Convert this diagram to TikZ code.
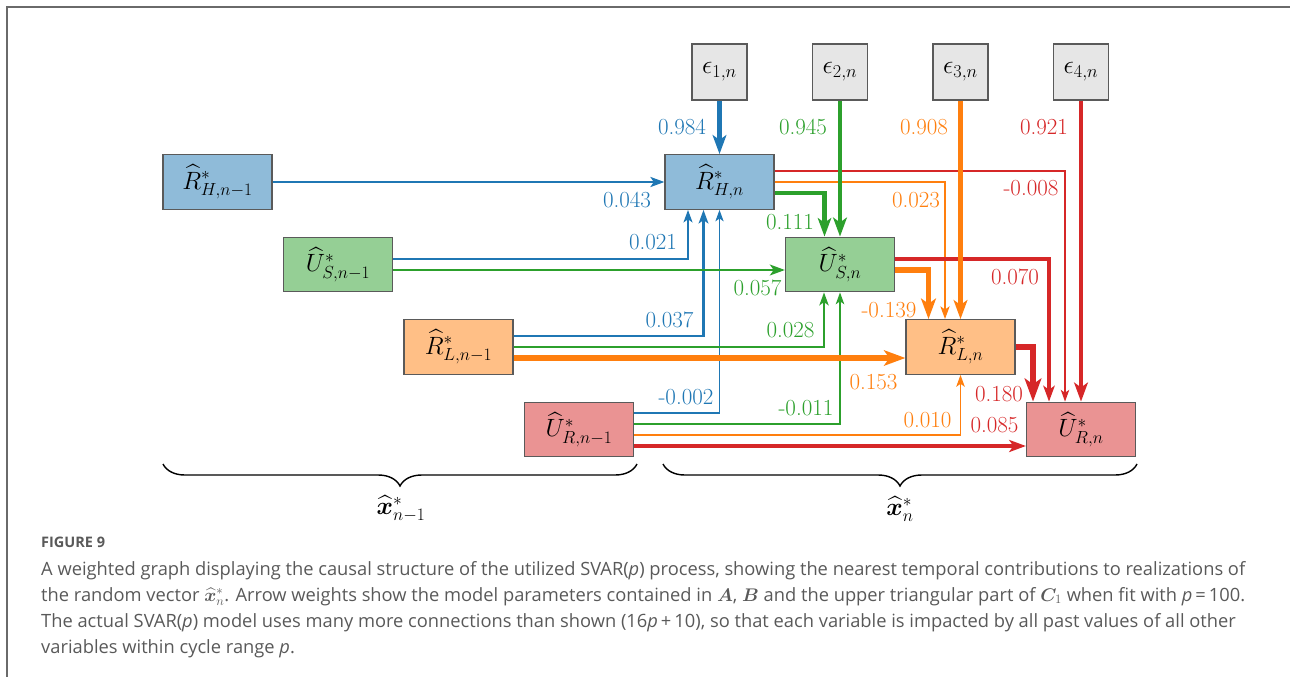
\RequirePackage{fix-cm}
\documentclass[tikz,border=0pt]{standalone}
\usepackage{amsmath}
\usepackage{bm}
\usepackage{fontspec}
\newfontfamily\capfont{Open Sans}
\usetikzlibrary{calc,arrows.meta,decorations.pathreplacing}
\definecolor{tblue}{HTML}{1F77B4}
\definecolor{tgreen}{HTML}{2CA02C}
\definecolor{torange}{HTML}{FF7F0E}
\definecolor{tred}{HTML}{D62728}
\definecolor{fblue}{HTML}{8FBBD9}
\definecolor{fgreen}{HTML}{95CF95}
\definecolor{forange}{HTML}{FFBF86}
\definecolor{fred}{HTML}{EA9393}
\definecolor{fgray}{HTML}{E6E6E6}
\definecolor{boxline}{HTML}{5A5A5A}
\definecolor{captext}{HTML}{595959}
\definecolor{framecol}{HTML}{6A6A6A}
\begin{document}
\begin{tikzpicture}[x=1pt,y=-1pt,
  box/.style={draw=boxline, line width=1.2pt, minimum width=109pt, minimum height=54.6pt,
              inner sep=0pt, font=\fontsize{25}{29}\selectfont},
  ebox/.style={box, fill=fgray, minimum width=55pt, minimum height=56pt, font=\fontsize{26}{30}\selectfont},
  wl/.style={font=\fontsize{23}{27}\selectfont, inner sep=0pt},
  arr/.style={line width=#1pt, -{Stealth[length=9pt 2.2, width'=0pt 0.72, inset'=0pt 0.25]}},
  bracelab/.style={font=\fontsize{25}{29}\selectfont, inner sep=0pt},
  brc/.style={line width=1.4pt, decorate, decoration={brace, mirror, amplitude=22pt}},
]
\useasboundingbox (0,0) rectangle (1290,677);
\draw[framecol, line width=1.5pt] (7,677) -- (7,7) -- (1290,7);

% nodes
\node[box, fill=fblue]   (rh1) at (217.5,182)   {$\widehat{R}^*_{H,n-1}$};
\node[box, fill=fgreen]  (us1) at (338,264.5)   {$\widehat{U}^*_{S,n-1}$};
\node[box, fill=forange] (rl1) at (458.5,347)   {$\widehat{R}^*_{L,n-1}$};
\node[box, fill=fred]    (ur1) at (579,429.5)   {$\widehat{U}^*_{R,n-1}$};
\node[box, fill=fblue]   (rh)  at (719.5,182)   {$\widehat{R}^*_{H,n}$};
\node[box, fill=fgreen]  (us)  at (840,264.5)   {$\widehat{U}^*_{S,n}$};
\node[box, fill=forange] (rl)  at (960.5,347)   {$\widehat{R}^*_{L,n}$};
\node[box, fill=fred]    (ur)  at (1081,429.5)  {$\widehat{U}^*_{R,n}$};
\node[ebox] (e1) at (719.5,72) {$\epsilon_{1,n}$};
\node[ebox] (e2) at (840,72)   {$\epsilon_{2,n}$};
\node[ebox] (e3) at (960.5,72) {$\epsilon_{3,n}$};
\node[ebox] (e4) at (1081,72)  {$\epsilon_{4,n}$};

% blue edges (into R_H,n)
\draw[tblue, arr=2.3] (rh1.east) -- (rh.west);
\draw[tblue, arr=1.6] ($(us1.east)+(0,-5.5)$) -| ($(rh.south)+(-31.5,0)$);
\draw[tblue, arr=2.1] ($(rl1.east)+(0,-11)$) -| ($(rh.south)+(-16,0)$);
\draw[tblue, arr=1.1] ($(ur1.east)+(0,-16.5)$) -| (rh.south);

% green edges (into U_S,n)
\draw[tgreen, arr=4.3] ($(rh.east)+(0,11)$) -| ($(us.north)+(-15.5,0)$);
\draw[tgreen, arr=2.7] ($(us1.east)+(0,5.5)$) -- ($(us.west)+(0,5.5)$);
\draw[tgreen, arr=1.8] (rl1.east) -| ($(us.south)+(-16,0)$);
\draw[tgreen, arr=1.3] ($(ur1.east)+(0,-5.5)$) -| (us.south);

% orange edges (into R_L,n)
\draw[torange, arr=5.2] ($(us.east)+(0,5.5)$) -| ($(rl.north)+(-32,0)$);
\draw[torange, arr=1.7] (rh.east) -| ($(rl.north)+(-15.5,0)$);
\draw[torange, arr=5.6] ($(rl1.east)+(0,11)$) -- ($(rl.west)+(0,11)$);
\draw[torange, arr=1.3] ($(ur1.east)+(0,5.5)$) -| (rl.south);

% red edges (into U_R,n)
\draw[tred, arr=6.4] (rl.east) -| ($(ur.north)+(-48,0)$);
\draw[tred, arr=3.1] ($(us.east)+(0,-5.5)$) -| ($(ur.north)+(-32,0)$);
\draw[tred, arr=1.25] ($(rh.east)+(0,-11)$) -| ($(ur.north)+(-16,0)$);
\draw[tred, arr=3.5] ($(ur1.east)+(0,16.5)$) -- ($(ur.west)+(0,16.5)$);

% noise edges
\draw[tblue, arr=4.5] (e1.south) -- (rh.north);
\draw[tgreen, arr=4.5] (e2.south) -- (us.north);
\draw[torange, arr=4.5] (e3.south) -- (rl.north);
\draw[tred, arr=4.5] (e4.south) -- (ur.north);

% weights
\node[wl, text=tblue]   (w984) at (682,127)   {0.984};
\node[wl, text=tgreen]  (w945) at (803,127)   {0.945};
\node[wl, text=torange] (w908) at (924,127)   {0.908};
\node[wl, text=tred]    (w921) at (1044,127)  {0.921};
\node[wl, text=tblue]   (w043) at (627,200)   {0.043};
\node[wl, text=tred]    (w008) at (1031,188)  {-0.008};
\node[wl, text=torange] (w023) at (916,200)   {0.023};
\node[wl, text=tgreen]  (w111) at (790,222)   {0.111};
\node[wl, text=tblue]   (w021) at (653,242)   {0.021};
\node[wl, text=tred]    (w070) at (1015,277)  {0.070};
\node[wl, text=tgreen]  (w057) at (757.5,288) {0.057};
\node[wl, text=torange] (w139) at (889,310)   {-0.139};
\node[wl, text=tblue]   (w037) at (669.5,320) {0.037};
\node[wl, text=tgreen]  (w028) at (790.5,330) {0.028};
\node[wl, text=torange] (w153) at (873.5,382) {0.153};
\node[wl, text=tred]    (w180) at (999,394)   {0.180};
\node[wl, text=tblue]   (w002) at (686,397)   {-0.002};
\node[wl, text=tgreen]  (w011) at (806,408)   {-0.011};
\node[wl, text=torange] (w010) at (927.5,420) {0.010};
\node[wl, text=tred]    (w085) at (994.5,425) {0.085};

% braces
\draw[brc] (163,464) -- (637,464);
\draw[brc] (663,464) -- (1137,464);
\node[bracelab] (xprev) at (401,509) {$\widehat{\bm{x}}^*_{n-1}$};
\node[bracelab] (xcur)  at (900,509) {$\widehat{\bm{x}}^*_{n}$};

% caption
\node[anchor=west, inner sep=0pt, text=captext, font=\capfont\bfseries\fontsize{14.5}{17}\selectfont] (fig) at (41,542) {FIGURE 9};
\node[anchor=north west, inner sep=0pt, align=left, text=captext,
      font=\capfont\fontsize{18.3}{26}\selectfont] (cap) at (41,561)
{A weighted graph displaying the causal structure of the utilized SVAR({\itshape p}) process, showing the nearest temporal contributions to realizations of\\
the random vector $\widehat{\bm{x}}^*_n$. Arrow weights show the model parameters contained in $\bm{A}$, $\bm{B}$ and the upper triangular part of $\bm{C}_1$ when fit with {\itshape p}\,=\,100.\\
The actual SVAR({\itshape p}) model uses many more connections than shown (16{\itshape p}\,+\,10), so that each variable is impacted by all past values of all other\\
variables within cycle range {\itshape p}.};
\end{tikzpicture}
\end{document}
